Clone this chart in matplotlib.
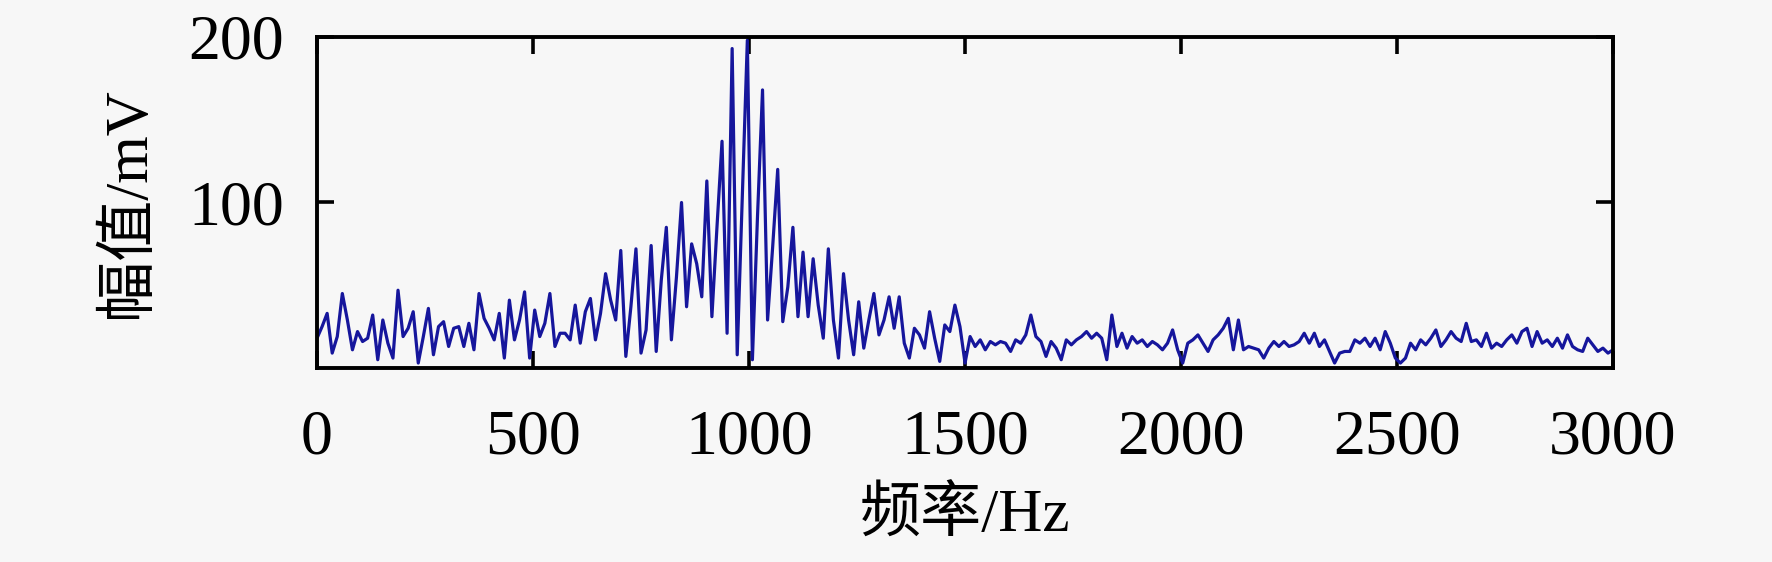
import numpy as np
import matplotlib
matplotlib.use("Agg")
import matplotlib.pyplot as plt

# amplitude spectrum, 257 bins from 0 to 3000 Hz
amp_mv = [
    18, 25, 33, 9, 19, 45, 29, 11, 22, 16, 18, 32, 5, 29, 15, 6, 47, 19, 24, 34,
    3, 19, 36, 8, 25, 28, 13, 24, 25, 13, 27, 11, 45, 30, 24, 17, 33, 6, 41, 17,
    29, 46, 6, 35, 19, 27, 45, 13, 21, 21, 17, 38, 15, 34, 42, 17, 33, 57, 41, 29,
    71, 7, 37, 72, 9, 23, 74, 10, 53, 85, 17, 55, 100, 37, 75, 63, 43, 113, 31, 85,
    137, 21, 193, 8, 102, 198, 5, 91, 168, 29, 73, 120, 28, 49, 85, 31, 70, 31, 66, 38,
    18, 72, 29, 6, 57, 29, 8, 40, 12, 29, 45, 20, 29, 43, 24, 43, 15, 6, 24, 20,
    12, 34, 18, 4, 26, 22, 38, 25, 3, 19, 13, 17, 11, 16, 14, 16, 15, 10, 17, 15,
    20, 32, 19, 16, 7, 16, 12, 5, 17, 14, 17, 19, 22, 18, 21, 18, 5, 32, 13, 21,
    12, 19, 15, 17, 13, 16, 14, 11, 15, 23, 11, 3, 15, 17, 20, 15, 10, 17, 20, 24,
    30, 11, 29, 11, 13, 12, 11, 6, 12, 16, 13, 16, 13, 14, 16, 21, 15, 21, 13, 17,
    10, 3, 9, 10, 10, 17, 15, 18, 13, 18, 11, 22, 15, 6, 3, 6, 15, 11, 17, 14,
    18, 23, 13, 17, 22, 18, 16, 27, 16, 17, 13, 21, 12, 15, 13, 17, 20, 15, 22, 24,
    13, 22, 15, 17, 13, 18, 12, 20, 13, 11, 10, 18, 14, 10, 12, 9, 11,
]
freq_hz = np.linspace(0, 3000, len(amp_mv))

x_ticks = [0, 500, 1000, 1500, 2000, 2500, 3000]
y_ticks = [100, 200]

bg = '#f7f7f7'
fig = plt.figure(figsize=(17.72, 5.62), dpi=100, facecolor=bg)
ax = fig.add_axes([0.1789, 0.3452, 0.7314, 0.5890], facecolor=bg)

ax.plot(freq_hz, amp_mv, color='#16169c', lw=2.3)

ax.set_xlim(0, 3000)
ax.set_ylim(0, 200)
ax.set_xticks(x_ticks)
ax.set_yticks(y_ticks)

for s in ax.spines.values():
    s.set_linewidth(2.8)
ax.tick_params(direction='in', top=True, right=True, length=12, width=2.6,
               labelsize=46)
ax.tick_params(axis='x', pad=30)
ax.tick_params(axis='y', pad=24)
for lab in ax.get_xticklabels() + ax.get_yticklabels():
    lab.set_family('Liberation Serif')

lab_font = ['Liberation Serif', 'Noto Sans CJK SC']
ax.set_xlabel('频率/Hz', family=lab_font, fontsize=44, labelpad=14)
ax.set_ylabel('幅值/mV', family=lab_font, fontsize=44, labelpad=22)

fig.savefig('out.png', dpi=100, facecolor=bg)
